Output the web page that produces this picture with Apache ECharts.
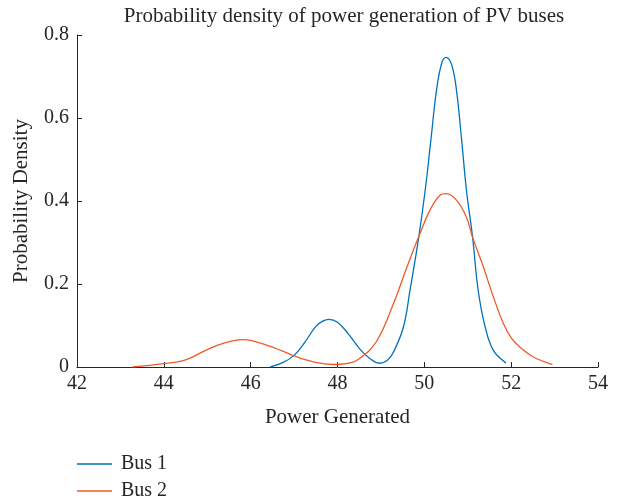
<!DOCTYPE html>
<html>
<head>
<meta charset="utf-8">
<script src="https://cdn.jsdelivr.net/npm/echarts@6/dist/echarts.min.js"></script>
<style>html,body{margin:0;padding:0;background:#fff;}#c{width:622px;height:502px;}</style>
</head>
<body>
<div id="c"></div>
<script>
var titleText = 'Probability density of power generation of PV buses';
var xAxisName = 'Power Generated';
var yAxisName = 'Probability Density';
var seriesNames = ['Bus 1', 'Bus 2'];

var bus1X = [46.45, 46.75, 47.0, 47.25, 47.5, 47.65, 47.8, 48.0, 48.25, 48.5, 48.75, 48.97, 49.15, 49.29, 49.52, 49.67, 49.86, 50.02, 50.15, 50.28, 50.4, 50.5, 50.63, 50.74, 50.86, 50.97, 51.11, 51.24, 51.4, 51.59, 51.88];
var bus1Y = [0.0, 0.011, 0.028, 0.06, 0.098, 0.11, 0.115, 0.108, 0.08, 0.045, 0.02, 0.009, 0.016, 0.036, 0.097, 0.185, 0.305, 0.426, 0.546, 0.667, 0.732, 0.746, 0.728, 0.667, 0.546, 0.426, 0.314, 0.185, 0.097, 0.04, 0.01];

var bus2X = [43.28, 44.0, 44.5, 45.0, 45.4, 45.8, 46.0, 46.5, 47.0, 47.5, 47.9, 48.2, 48.5, 48.9, 49.29, 49.6, 49.89, 50.13, 50.36, 50.51, 50.74, 50.97, 51.11, 51.36, 51.59, 51.82, 52.01, 52.2, 52.51, 52.95];
var bus2Y = [0.0, 0.008, 0.017, 0.042, 0.058, 0.066, 0.064, 0.048, 0.027, 0.011, 0.006, 0.008, 0.02, 0.062, 0.153, 0.241, 0.319, 0.378, 0.414, 0.418, 0.402, 0.361, 0.313, 0.241, 0.169, 0.105, 0.069, 0.048, 0.024, 0.006];

var seriesColors = ['#0072BD', '#EE5A28'];

function pairs(xs, ys) { return xs.map(function (x, i) { return [x, ys[i]]; }); }

var font = 'Liberation Serif';
var textColor = '#262626';
var lineIcon = 'path://M0,0 L35,0 L35,1.5 L0,1.5 Z';
function legendFor(i, top) {
  return {
    left: 77, top: top, itemWidth: 35, itemHeight: 10, padding: 0,
    textStyle: {fontFamily: font, fontSize: 20, color: textColor, padding: [0, 0, 0, 4]},
    data: [{name: seriesNames[i], icon: lineIcon}]
  };
}

var chart = echarts.init(document.getElementById('c'), null, {renderer: 'canvas'});
chart.setOption({
  animation: false,
  backgroundColor: '#fff',
  title: {
    text: titleText, left: 339, top: 1, textAlign: 'center',
    textStyle: {fontFamily: font, fontWeight: 'normal', fontSize: 21, color: textColor}
  },
  legend: [legendFor(0, 454), legendFor(1, 481)],
  grid: {left: 77, right: 24, top: 35, bottom: 135, containLabel: false},
  xAxis: {
    type: 'value', min: 42, max: 54, interval: 2,
    name: xAxisName, nameLocation: 'middle', nameGap: 40,
    nameTextStyle: {fontFamily: font, fontSize: 21, color: textColor},
    axisLine: {lineStyle: {color: textColor, width: 1}},
    axisTick: {inside: true, length: 5, lineStyle: {color: textColor}},
    axisLabel: {fontFamily: font, fontSize: 20, color: textColor, margin: 7},
    splitLine: {show: false}
  },
  yAxis: {
    type: 'value', min: 0, max: 0.8, interval: 0.2,
    name: yAxisName, nameLocation: 'middle', nameGap: 45,
    nameTextStyle: {fontFamily: font, fontSize: 21, color: textColor},
    axisLine: {show: true, lineStyle: {color: textColor, width: 1}},
    axisTick: {show: true, inside: true, length: 5, lineStyle: {color: textColor}},
    axisLabel: {fontFamily: font, fontSize: 20, color: textColor, margin: 8},
    splitLine: {show: false}
  },
  series: [
    {name: seriesNames[0], type: 'line', smooth: 0.4, symbol: 'none', data: pairs(bus1X, bus1Y),
     lineStyle: {color: seriesColors[0], width: 1.3}, itemStyle: {color: seriesColors[0]}},
    {name: seriesNames[1], type: 'line', smooth: 0.4, symbol: 'none', data: pairs(bus2X, bus2Y),
     lineStyle: {color: seriesColors[1], width: 1.3}, itemStyle: {color: seriesColors[1]}}
  ]
});
</script>
</body>
</html>
